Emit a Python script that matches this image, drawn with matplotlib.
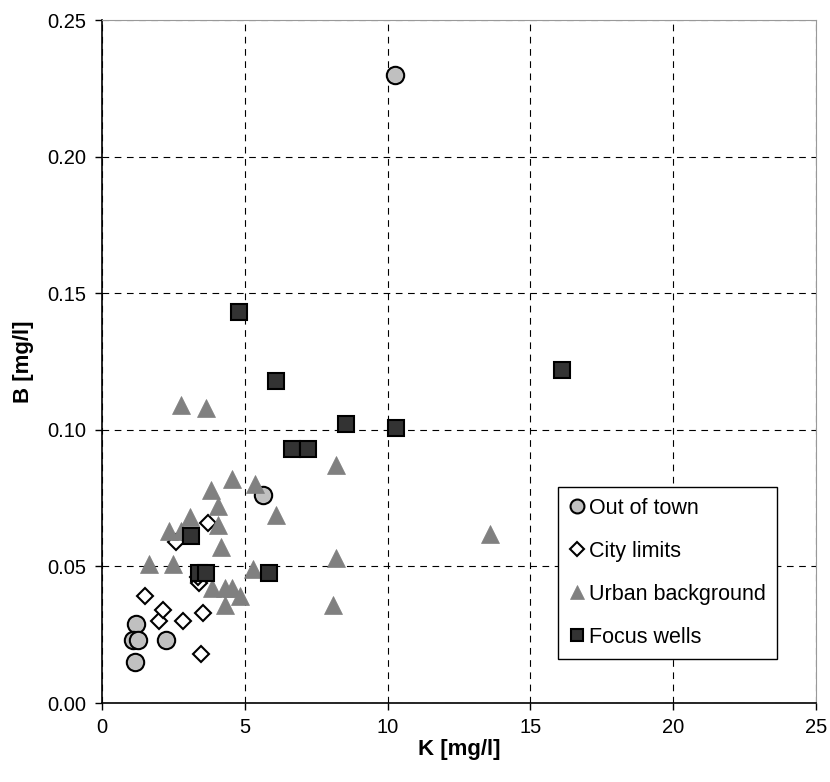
import matplotlib
matplotlib.use("Agg")
import matplotlib.pyplot as plt

plt.rcParams["font.family"] = ["Liberation Sans", "DejaVu Sans"]

# Out of town
town_k = [10.25, 5.65, 1.2, 1.1, 1.25, 1.15, 2.25]
town_b = [0.230, 0.076, 0.029, 0.023, 0.023, 0.015, 0.023]

# City limits
city_k = [3.7, 2.6, 1.5, 2.0, 2.15, 2.85, 3.55, 3.45, 3.4, 3.35]
city_b = [0.066, 0.059, 0.039, 0.030, 0.034, 0.030, 0.033, 0.018, 0.044, 0.046]

# Urban background
urban_k = [2.75, 3.65, 4.55, 5.35, 3.82, 6.1, 4.05, 3.08, 4.05, 2.33, 2.75,
           4.18, 1.65, 2.5, 5.3, 8.2, 8.2, 8.1, 13.6, 3.85, 4.3, 4.55, 4.83,
           4.3]
urban_b = [0.109, 0.108, 0.082, 0.080, 0.078, 0.069, 0.072, 0.068, 0.065,
           0.063, 0.063, 0.057, 0.051, 0.051, 0.049, 0.087, 0.053, 0.036,
           0.062, 0.042, 0.042, 0.042, 0.039, 0.036]

# Focus wells
focus_k = [4.8, 6.1, 16.1, 8.55, 10.3, 6.65, 7.2, 3.12, 3.4, 3.65, 5.85]
focus_b = [0.143, 0.118, 0.122, 0.102, 0.1005, 0.093, 0.093, 0.061, 0.0475,
           0.0475, 0.0475]

x_ticks = [0, 5, 10, 15, 20, 25]
y_ticks = [0.00, 0.05, 0.10, 0.15, 0.20, 0.25]

fig = plt.figure(figsize=(8.3, 7.82), dpi=100)
ax = fig.add_axes([0.1229, 0.101, 0.8602, 0.8734])

ax.plot(town_k, town_b, "o", ms=12.5, mfc="#c0c0c0", mec="black", mew=1.5,
        label="Out of town", zorder=3)
ax.plot(city_k, city_b, "D", ms=8.5, mfc="white", mec="black", mew=1.5,
        label="City limits", zorder=4)
ax.plot(urban_k, urban_b, "^", ms=13, mfc="#808080", mec="#808080", mew=0.5,
        label="Urban background", zorder=5)
ax.plot(focus_k, focus_b, "s", ms=11.5, mfc="#333333", mec="black", mew=1.5,
        label="Focus wells", zorder=6)

ax.set_xlim(0, 25)
ax.set_ylim(0, 0.25)
ax.set_xticks(x_ticks)
ax.set_yticks(y_ticks)
ax.set_yticklabels([f"{v:.2f}" for v in y_ticks])
ax.tick_params(labelsize=14.5, direction="out", length=5, width=1, pad=6)

ax.grid(True, color="black", linestyle=(0, (6, 5)), linewidth=0.8)
ax.set_axisbelow(True)

for side in ("top", "right"):
    ax.spines[side].set_color("#999999")
for side in ("left", "bottom"):
    ax.spines[side].set_color("black")
    ax.spines[side].set_linewidth(1.2)

ax.set_xlabel("K [mg/l]", fontsize=16, fontweight="bold", labelpad=1)
ax.set_ylabel("B [mg/l]", fontsize=16, fontweight="bold", labelpad=10)

leg = ax.legend(loc="upper left", bbox_to_anchor=(0.6387, 0.316),
                fontsize=15.5, frameon=True, fancybox=False, framealpha=1,
                edgecolor="black", labelspacing=1.02, handletextpad=0.15,
                borderpad=0.5, handlelength=0.8, borderaxespad=0,
                markerscale=0.8)
leg.get_frame().set_linewidth(1.0)

fig.savefig("out.png", dpi=100)
